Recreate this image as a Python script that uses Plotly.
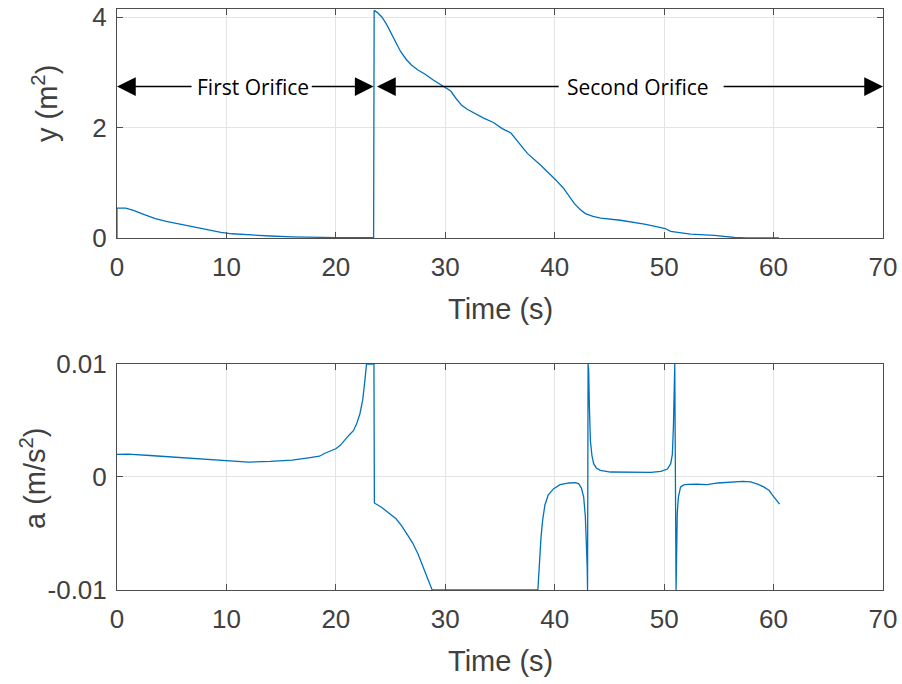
import plotly.graph_objects as go

# ---------------- data ----------------
t_area = [0, 0, 0.8, 1.5, 2.5, 3.5, 4.5, 5.5, 6.5, 7.5, 8.5, 9.5, 10.5, 12, 14,
          16, 18, 20, 23.45,
          23.5, 23.8, 24.2, 24.6, 25.0, 25.4, 25.9, 26.4, 26.9, 27.5, 28.2, 28.9,
          29.5, 30.0, 30.5, 31.0, 31.5, 32.0, 32.8, 33.5, 34.4, 35.2, 36.0, 36.3,
          36.8, 37.5, 38.7, 39.5, 40.1, 40.8, 41.3, 41.8, 42.3, 42.8, 43.5, 44.2,
          46.0, 47.0, 48.2, 49.4, 50.1, 50.6, 51.5, 52.4, 54.6, 55.5, 56.4, 57.5,
          60.5]
y_area = [0, 0.54, 0.54, 0.50, 0.42, 0.35, 0.30, 0.26, 0.22, 0.18, 0.14, 0.10,
          0.075, 0.055, 0.035, 0.02, 0.01, 0.005, 0.005,
          4.12, 4.08, 4.00, 3.88, 3.72, 3.56, 3.38, 3.24, 3.13, 3.04, 2.96, 2.86,
          2.78, 2.72, 2.66, 2.52, 2.40, 2.33, 2.24, 2.17, 2.09, 1.98, 1.90, 1.83,
          1.70, 1.53, 1.32, 1.17, 1.05, 0.90, 0.76, 0.62, 0.52, 0.44, 0.39, 0.36,
          0.32, 0.29, 0.25, 0.20, 0.17, 0.12, 0.09, 0.07, 0.045, 0.025, 0.008,
          0.0, 0.0]

t_acc = [0, 1, 3, 5, 7.5, 10, 12, 14, 16, 17.5, 18.5, 19, 20, 20.4, 20.8, 21.2,
         21.6, 21.9, 22.2, 22.45, 22.65, 22.8, 23.48,
         23.52, 24.2, 24.9, 25.5, 26.0, 26.5, 27.0, 27.5, 28.0, 28.4, 28.8,
         38.46, 38.55, 38.65, 38.75, 38.9, 39.1, 39.4, 39.9, 40.5, 41.3, 41.9,
         42.2, 42.45, 42.65, 42.8, 42.9, 42.97, 43.0,
         43.05, 43.1, 43.17, 43.26, 43.4, 43.56, 43.8, 44.17, 45.1, 48.8, 49.7,
         50.3, 50.6, 50.75, 50.85, 50.92, 50.97,
         51.09, 51.15, 51.2, 51.3, 51.5, 51.8, 52.1, 53.0, 53.95, 54.9, 55.7,
         56.4, 57.2, 57.9, 58.6, 59.1, 59.6, 59.9, 60.25, 60.55]
a_acc = [0.0020, 0.00203, 0.0019, 0.00177, 0.0016, 0.00141, 0.00132, 0.00138,
         0.00150, 0.00170, 0.00184, 0.0021, 0.0025, 0.0028, 0.0033, 0.0037,
         0.0041, 0.0047, 0.0056, 0.0068, 0.0085, 0.0100, 0.0100,
         -0.0023, -0.0027, -0.0032, -0.0037, -0.0043, -0.0050, -0.0058, -0.0068,
         -0.0080, -0.0091, -0.0100,
         -0.0100, -0.0085, -0.0068, -0.0053, -0.0038, -0.0025, -0.0016, -0.00103,
         -0.00068, -0.00053, -0.0005, -0.0006, -0.0010, -0.0018, -0.0035,
         -0.0056, -0.0080, -0.0100,
         0.0100, 0.0095, 0.0062, 0.0032, 0.0019, 0.00118, 0.0008, 0.00059,
         0.00044, 0.0004, 0.0005, 0.0007, 0.00118, 0.0020, 0.0045, 0.0076, 0.0100,
         -0.0100, -0.0055, -0.0032, -0.0018, -0.00088, -0.0007, -0.00065,
         -0.00064, -0.00068, -0.00053, -0.00048, -0.00041, -0.00038, -0.00044,
         -0.00065, -0.00088, -0.0012, -0.0016, -0.0020, -0.0024]

x_ticks = [0, 10, 20, 30, 40, 50, 60, 70]
y1_ticks = [0, 2, 4]
y2_ticks = [-0.01, 0, 0.01]
y2_ticktext = ["-0.01", "0", "0.01"]

# ---------------- style ----------------
LINE = "#0072BD"
AXC = "#4d4d4d"
TXT = "#404040"
GRID = "#e4e4e4"
FONT = "Liberation Sans, Arial, sans-serif"

fig = go.Figure()
fig.add_trace(go.Scatter(x=t_area, y=y_area, mode="lines",
                         line=dict(color=LINE, width=1.3),
                         xaxis="x", yaxis="y", showlegend=False))
fig.add_trace(go.Scatter(x=t_acc, y=a_acc, mode="lines",
                         line=dict(color=LINE, width=1.3),
                         xaxis="x2", yaxis="y2", showlegend=False))

axis_common = dict(showline=True, linecolor=AXC, linewidth=1, mirror="ticks",
                   ticks="inside", ticklen=6, tickcolor=AXC, tickwidth=1,
                   showgrid=True, gridcolor=GRID, gridwidth=1, zeroline=False,
                   automargin=False,
                   tickfont=dict(family=FONT, size=26, color=TXT))

fig.update_layout(
    width=902, height=684,
    margin=dict(l=117, r=19, t=9, b=94, autoexpand=False),
    paper_bgcolor="white", plot_bgcolor="white",
    xaxis=dict(domain=[0, 1], range=[0, 70], tickvals=x_ticks, anchor="y",
               ticklabelstandoff=6, **axis_common),
    yaxis=dict(domain=[0.606, 1], range=[0, 4.145], tickvals=y1_ticks, anchor="x",
               ticklabelstandoff=4, **axis_common),
    xaxis2=dict(domain=[0, 1], range=[0, 70], tickvals=x_ticks, anchor="y2",
                ticklabelstandoff=6, **axis_common),
    yaxis2=dict(domain=[0, 0.389], range=[-0.01, 0.01], tickvals=y2_ticks,
                ticktext=y2_ticktext, anchor="x2", ticklabelstandoff=4,
                **axis_common),
)

title_font = dict(family=FONT, size=29, color=TXT)
ann = []
# axis titles
ann.append(dict(text="Time (s)", xref="paper", yref="paper", x=0.5,
                y=(590 - 309) / 581, xanchor="center", yanchor="middle",
                showarrow=False, font=title_font))
ann.append(dict(text="Time (s)", xref="paper", yref="paper", x=0.5,
                y=(590 - 661) / 581, xanchor="center", yanchor="middle",
                showarrow=False, font=title_font))
ann.append(dict(text="y (m<sup>2</sup>)", xref="paper", yref="paper",
                x=(45 - 117) / 766, y=(590 - 104) / 581, textangle=-90,
                xanchor="center", yanchor="middle", showarrow=False,
                font=title_font))
ann.append(dict(text="a (m/s<sup>2</sup>)", xref="paper", yref="paper",
                x=(33 - 117) / 766, y=(590 - 478) / 581, textangle=-90,
                xanchor="center", yanchor="middle", showarrow=False,
                font=title_font))

# orifice labels and arrows
ARR_Y = 2.74
lab_font = dict(family="Open Sans, sans-serif", size=21, color="black")
ann.append(dict(text="First Orifice", x=12.4, y=ARR_Y, xref="x", yref="y",
                showarrow=False, font=lab_font, xanchor="center", yanchor="middle"))
ann.append(dict(text="Second Orifice", x=47.65, y=ARR_Y, xref="x", yref="y",
                showarrow=False, font=lab_font, xanchor="center", yanchor="middle"))
arrows = [(0.0, 6.95), (23.45, 17.66), (23.76, 40.5), (70.0, 55.3)]
for head, tail in arrows:
    ann.append(dict(text="", x=head, y=ARR_Y, ax=tail, ay=ARR_Y,
                    xref="x", yref="y", axref="x", ayref="y",
                    showarrow=True, arrowhead=2, arrowsize=2.5, arrowwidth=1.5,
                    arrowcolor="black", standoff=0, startstandoff=0))
fig.update_layout(annotations=ann)

fig.write_html("out.html")
